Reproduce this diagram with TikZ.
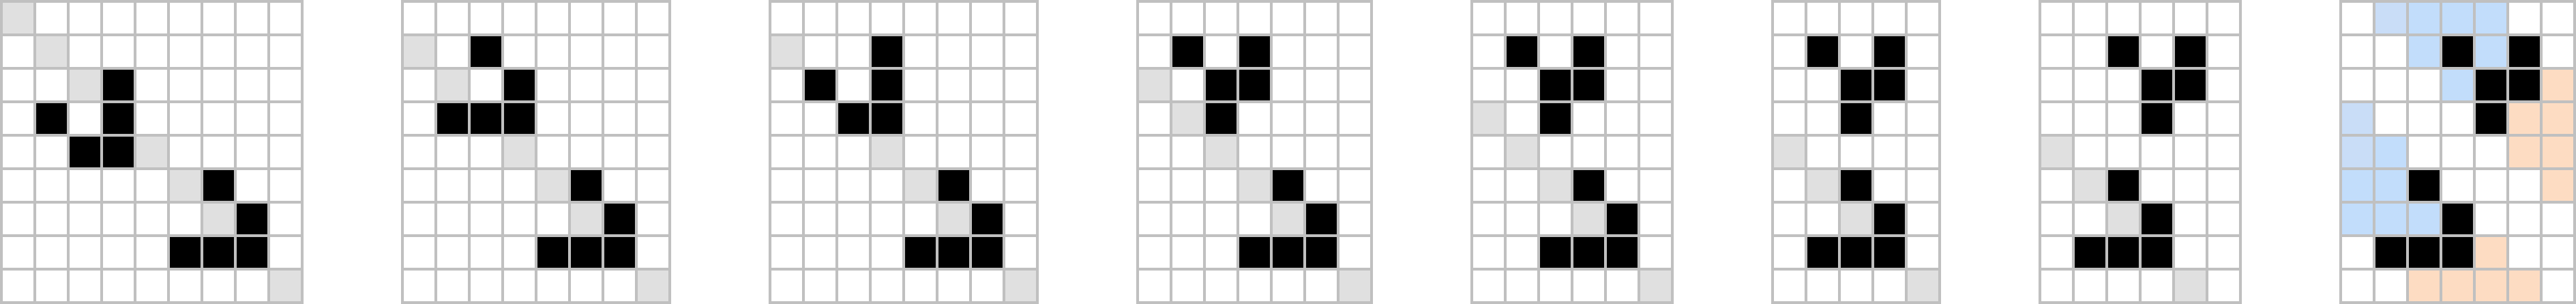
\documentclass[tikz,border=0pt]{standalone}
\definecolor{gridgray}{HTML}{C0C0C0}
\definecolor{trail}{HTML}{E0E0E0}
\definecolor{blueA}{HTML}{C2DDFB}
\definecolor{blueB}{HTML}{C9DDF7}
\definecolor{orangeA}{HTML}{FDDCC2}
\tikzset{
  gridline/.style={draw=gridgray, line width=0.08333cm, line cap=rect},
}
% \cells{colour}{x offset}{list of r/c}
\newcommand{\cellsfill}[3]{%
  \foreach \r/\c in {#3} {\fill[#1] ({#2+\c},{8-\r}) rectangle ++(1,1);}%
}
\newcommand{\gridof}[2]{%
  \draw[gridline] (#1,0) grid ({#1+#2},9);%
}
\begin{document}
\begin{tikzpicture}[x=1cm,y=1cm]
\useasboundingbox (-0.041667,-0.041667) rectangle (77.041667,9.041667);
\fill[white] (-0.041667,-0.041667) rectangle (77.041667,9.041667);
% Grid 1
\cellsfill{trail}{0}{0/0,1/1,2/2,4/4,5/5,6/6,8/8}
\cellsfill{black}{0}{2/3,3/1,3/3,4/2,4/3,5/6,6/7,7/5,7/6,7/7}
\gridof{0}{9}
% Grid 2
\cellsfill{trail}{12}{1/0,2/1,4/3,5/4,6/5,8/7}
\cellsfill{black}{12}{1/2,2/3,3/1,3/2,3/3,5/5,6/6,7/4,7/5,7/6}
\gridof{12}{8}
% Grid 3
\cellsfill{trail}{23}{1/0,4/3,5/4,6/5,8/7}
\cellsfill{black}{23}{1/3,2/1,2/3,3/2,3/3,5/5,6/6,7/4,7/5,7/6}
\gridof{23}{8}
% Grid 4
\cellsfill{trail}{34}{2/0,3/1,4/2,5/3,6/4,8/6}
\cellsfill{black}{34}{1/1,1/3,2/2,2/3,3/2,5/4,6/5,7/3,7/4,7/5}
\gridof{34}{7}
% Grid 5
\cellsfill{trail}{44}{3/0,4/1,5/2,6/3,8/5}
\cellsfill{black}{44}{1/1,1/3,2/2,2/3,3/2,5/3,6/4,7/2,7/3,7/4}
\gridof{44}{6}
% Grid 6
\cellsfill{trail}{53}{4/0,5/1,6/2,8/4}
\cellsfill{black}{53}{1/1,1/3,2/2,2/3,3/2,5/2,6/3,7/1,7/2,7/3}
\gridof{53}{5}
% Grid 7
\cellsfill{trail}{61}{4/0,5/1,6/2,8/4}
\cellsfill{black}{61}{1/2,1/4,2/3,2/4,3/3,5/2,6/3,7/1,7/2,7/3}
\gridof{61}{6}
% Grid 8
\cellsfill{blueB}{70}{0/1,3/0,4/0}
\cellsfill{blueA}{70}{0/2,0/3,0/4,1/2,1/4,2/3,4/1,5/0,5/1,6/0,6/1,6/2}
\cellsfill{orangeA}{70}{2/6,3/5,3/6,4/5,4/6,5/6,7/4,8/2,8/3,8/4,8/5}
\cellsfill{black}{70}{1/3,1/5,2/4,2/5,3/4,5/2,6/3,7/1,7/2,7/3}
\gridof{70}{7}
\end{tikzpicture}
\end{document}
